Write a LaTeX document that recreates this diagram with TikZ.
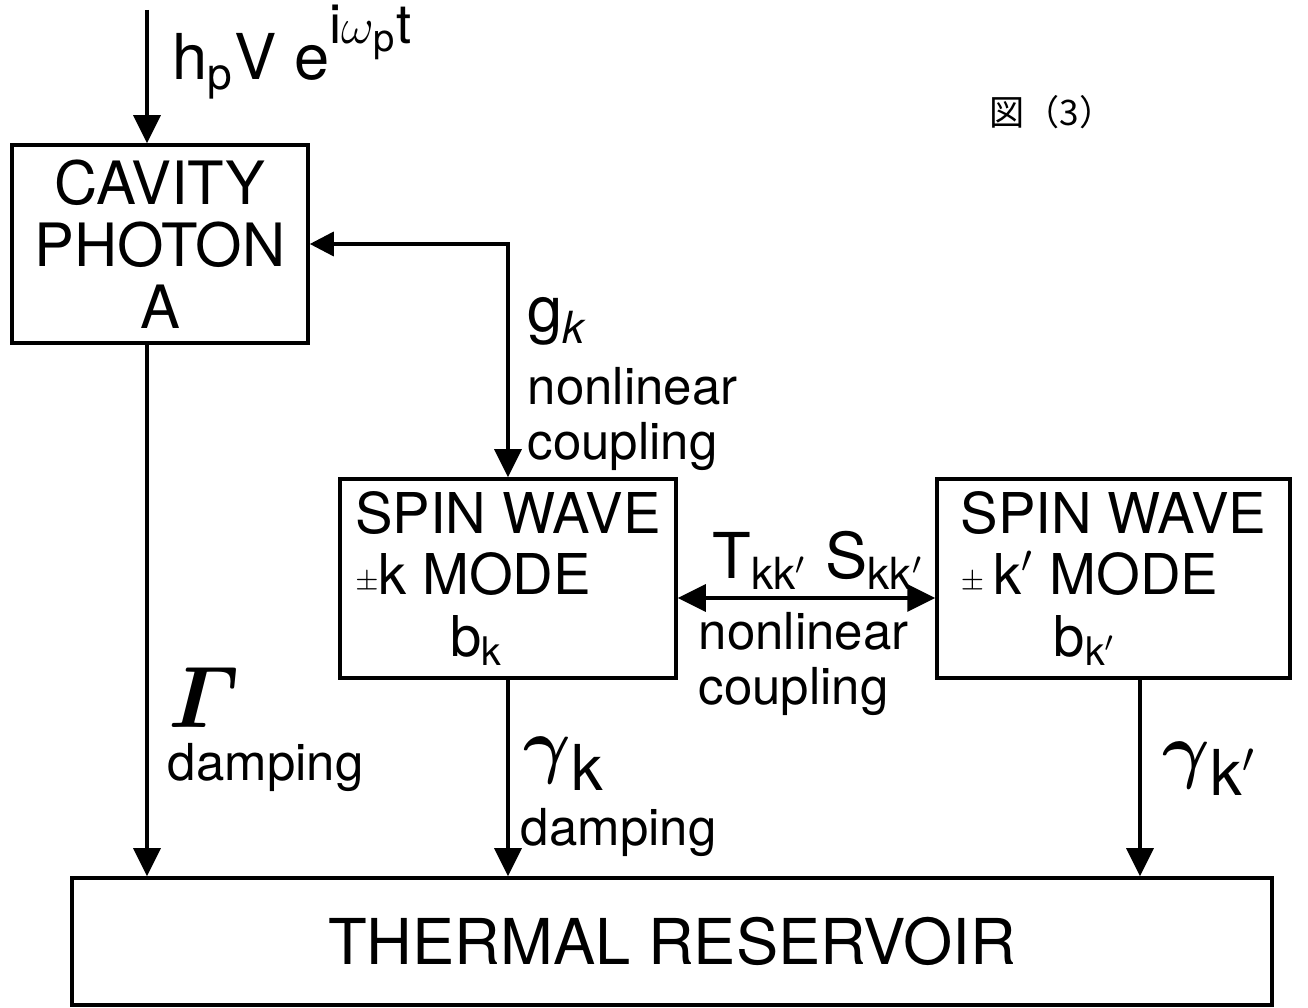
\documentclass[tikz,border=0pt]{standalone}
\usepackage{amsmath, amssymb}
\usepackage{fontspec}
\setmainfont{TeX Gyre Heros}
\newfontfamily\cjk{Noto Sans CJK JP}
\usetikzlibrary{calc, arrows.meta}

\begin{document}
\begin{tikzpicture}[
		modebox/.style = {draw, line width = 1pt, inner sep = 0pt, align = center, font = \fontsize{17}{17.6}\selectfont},
		flow/.style = {line width = 1pt, -{Triangle[length = 0.28cm, width = 0.27cm]}},
		tag/.style = {inner sep = 0pt, align = left, font = \fontsize{14.5}{15.5}\selectfont},
		sym/.style = {inner sep = 0pt, anchor = base west, font = \fontsize{18}{20}\selectfont}
	]
		\def\W{13.08}
		\def\H{10.07}
		\def\pmsign{\raisebox{0.2ex}{\footnotesize$\pm$}}
		
		\useasboundingbox (0,0) rectangle (\W,\H);
		
		\coordinate (feed) at (1.47,9.97);
		\coordinate (kp drop) at (11.40,0);
		\coordinate (link) at (0,4.09);
		
		\node [modebox, minimum width = 2.96cm, minimum height = 1.98cm] (cavity) at (1.60,7.63) {CAVITY\\PHOTON\\A};
		\node [modebox, minimum width = 3.36cm, minimum height = 1.99cm, align = left, font = \fontsize{16}{17.6}\selectfont] (swk) at (5.08,4.285) {SPIN WAVE\\\pmsign k MODE\\\hspace*{0.95cm}b\textsubscript{k}};
		\node [modebox, minimum width = 3.53cm, minimum height = 1.99cm, align = left, font = \fontsize{16}{17.6}\selectfont] (swkp) at (11.135,4.285) {SPIN WAVE\\\pmsign\,k$'$ MODE\\\hspace*{0.93cm}b\textsubscript{k$'$}};
		\node [modebox, minimum width = 12.00cm, minimum height = 1.27cm, font = \fontsize{18}{20}\selectfont] (reservoir) at (6.72,0.655) {THERMAL RESERVOIR};
		
		% drive and couplings
		\draw [flow] (feed) -- (feed |- cavity.north);
		\draw [flow, {Triangle[length = 0.24cm, width = 0.24cm]}-{Triangle[length = 0.28cm, width = 0.27cm]}] (cavity.east) -| (swk.north);
		\draw [flow, {Triangle[length = 0.28cm, width = 0.27cm]}-{Triangle[length = 0.28cm, width = 0.27cm]}] (swk.east |- link) -- (swkp.west |- link);
		
		% damping
		\draw [flow] (cavity.south -| feed) -- (feed |- reservoir.north);
		\draw [flow] (swk.south) -- (swk.south |- reservoir.north);
		\draw [flow] (swkp.south -| kp drop) -- (kp drop |- reservoir.north);
		
		% labels
		\node [sym] (drive) at (1.72,9.27) {h\textsubscript{p}V e\raisebox{1.1ex}{\fontsize{15.5}{15.5}\selectfont i$\omega$\textsubscript{p}t}};
		\node [sym] (g label) at (5.27,6.75) {g\textsubscript{\textit{k}}};
		\node [tag, anchor = north west] (g text) at (5.27,6.40) {nonlinear\\coupling};
		\node [sym] (ts label) at (7.12,4.29) {T\textsubscript{kk$'$} S\textsubscript{kk$'$}};
		\node [tag, anchor = north west] (ts text) at (6.98,3.95) {nonlinear\\coupling};
		\node [sym, font = \fontsize{24}{26}\selectfont] (Gamma label) at (1.68,2.80) {$\boldsymbol{\varGamma}$};
		\node [tag, anchor = base west] (Gamma text) at (1.67,2.27) {damping};
		\node [sym, font = \fontsize{22}{24}\selectfont] (gk label) at (5.23,2.38) {$\boldsymbol{\gamma}$\textsubscript{\fontsize{18}{20}\selectfont k}};
		\node [tag, anchor = base west] (gk text) at (5.20,1.62) {damping};
		\node [sym, font = \fontsize{22}{24}\selectfont] (gkp label) at (11.62,2.33) {$\boldsymbol{\gamma}$\textsubscript{\fontsize{18}{20}\selectfont k$'$}};
		
		\node [inner sep = 0pt, font = \cjk\fontsize{10}{12}\selectfont] (fig no) at (10.52,8.95) {図（3）};
	\end{tikzpicture}
\end{document}
